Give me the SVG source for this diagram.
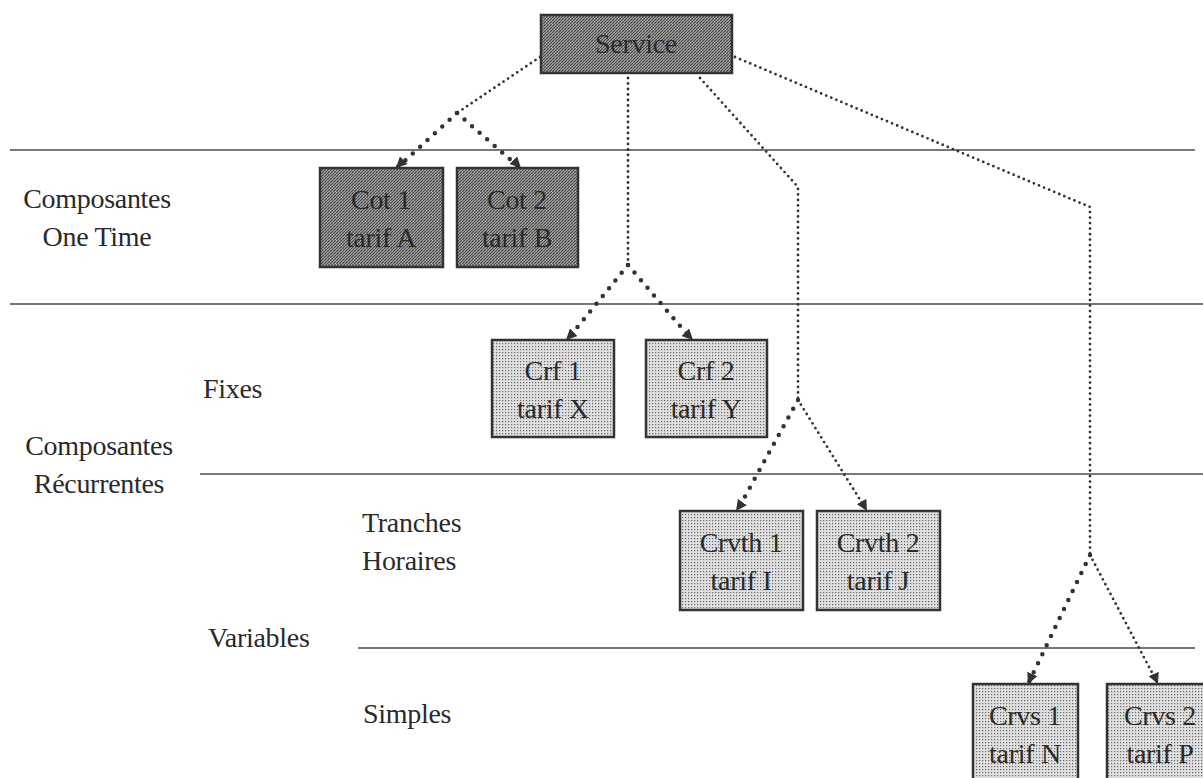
<svg xmlns="http://www.w3.org/2000/svg" width="1203" height="778" viewBox="0 0 1203 778">
<defs>
<pattern id="dark" width="3" height="3" patternUnits="userSpaceOnUse">
<rect width="3" height="3" fill="#a8a8a8"/>
<path d="M0,3 L3,0" stroke="#444" stroke-width="1.2"/>
</pattern>
<pattern id="light" width="3" height="3" patternUnits="userSpaceOnUse">
<rect width="3" height="3" fill="#e0e0e0"/>
<rect x="1" y="1" width="1.2" height="1.2" fill="#666"/>
</pattern>
<marker id="arr" viewBox="0 0 10 10" refX="10" refY="5" markerWidth="11" markerHeight="11" markerUnits="userSpaceOnUse" orient="auto">
<path d="M0,0 L10,5 L0,10 Z" fill="#333"/>
</marker>
</defs>
<style>
text{font-family:"Liberation Serif","Times New Roman",serif;font-size:28px;fill:#2a2a2a;letter-spacing:-0.3px}
.c{text-anchor:middle}
.dk{fill:url(#dark);stroke:#333;stroke-width:2.5}
.lt{fill:url(#light);stroke:#333;stroke-width:2.5}
.rule{stroke:#4a4a4a;stroke-width:1.6;fill:none}
.thin{stroke:#333;stroke-width:2.8;stroke-dasharray:0 5.5;stroke-linecap:round;fill:none}
.bold{stroke:#333;stroke-width:4.5;stroke-dasharray:0 10;stroke-linecap:round;fill:none}
.ah{fill:none;stroke:none}
</style>
<rect width="1203" height="778" fill="#fff"/>
<g id="rules">
<line class="rule" x1="10" y1="150" x2="1195" y2="150"/>
<line class="rule" x1="10" y1="304" x2="1203" y2="304"/>
<line class="rule" x1="200" y1="474" x2="1203" y2="474"/>
<line class="rule" x1="358" y1="648" x2="1195" y2="648"/>
</g>
<g id="labels">
<text class="c" x="97" y="208">Composantes</text>
<text class="c" x="97" y="246">One Time</text>
<text x="203" y="398">Fixes</text>
<text class="c" x="99" y="455">Composantes</text>
<text class="c" x="99" y="493">Récurrentes</text>
<text x="362" y="532">Tranches</text>
<text x="362" y="570">Horaires</text>
<text x="208" y="647">Variables</text>
<text x="363" y="723">Simples</text>
</g>
<g id="connectors">
<path class="thin" d="M540,57 L457,113"/>
<path class="bold" d="M457,113 L397,168"/>
<path class="bold" d="M457,113 L520,168"/>
<path class="thin" d="M628,78 L628,265"/>
<path class="bold" d="M628,265 L567,340"/>
<path class="bold" d="M628,265 L692,340"/>
<path class="thin" d="M700,78 L798,187 L798,400"/>
<path class="bold" d="M798,400 L737,511"/>
<path class="thin" d="M798,400 L867,511"/>
<path class="thin" d="M735,57 L1090,207 L1090,555"/>
<path class="bold" d="M1090,555 L1028,684"/>
<path class="thin" d="M1090,555 L1158,684"/>
<path class="ah" marker-end="url(#arr)" d="M402,162 L396,168"/>
<path class="ah" marker-end="url(#arr)" d="M515,162 L521,168"/>
<path class="ah" marker-end="url(#arr)" d="M572,334 L566,340"/>
<path class="ah" marker-end="url(#arr)" d="M687,334 L693,340"/>
<path class="ah" marker-end="url(#arr)" d="M741,504 L736,511"/>
<path class="ah" marker-end="url(#arr)" d="M863,504 L867,511"/>
<path class="ah" marker-end="url(#arr)" d="M1031,677 L1028,684"/>
<path class="ah" marker-end="url(#arr)" d="M1155,677 L1158,684"/>
</g>
<g id="service">
<rect class="dk" x="541" y="15" width="191" height="58"/>
<text class="c" x="636" y="53">Service</text>
</g>
<g id="cot1">
<rect class="dk" x="320" y="168" width="123" height="99"/>
<text class="c" x="381" y="209">Cot 1</text>
<text class="c" x="381" y="247">tarif A</text>
</g>
<g id="cot2">
<rect class="dk" x="457" y="168" width="121" height="99"/>
<text class="c" x="517" y="209">Cot 2</text>
<text class="c" x="517" y="247">tarif B</text>
</g>
<g id="crf1">
<rect class="lt" x="492" y="340" width="122" height="97"/>
<text class="c" x="553" y="380">Crf 1</text>
<text class="c" x="553" y="418">tarif X</text>
</g>
<g id="crf2">
<rect class="lt" x="646" y="340" width="121" height="97"/>
<text class="c" x="706" y="380">Crf 2</text>
<text class="c" x="706" y="418">tarif Y</text>
</g>
<g id="crvth1">
<rect class="lt" x="680" y="511" width="123" height="99"/>
<text class="c" x="741" y="552">Crvth 1</text>
<text class="c" x="741" y="590">tarif I</text>
</g>
<g id="crvth2">
<rect class="lt" x="817" y="511" width="123" height="99"/>
<text class="c" x="878" y="552">Crvth 2</text>
<text class="c" x="878" y="590">tarif J</text>
</g>
<g id="crvs1">
<rect class="lt" x="973" y="684" width="105" height="110"/>
<text class="c" x="1025" y="725">Crvs 1</text>
<text class="c" x="1025" y="763">tarif N</text>
</g>
<g id="crvs2">
<rect class="lt" x="1107" y="684" width="110" height="110"/>
<text class="c" x="1160" y="725">Crvs 2</text>
<text class="c" x="1160" y="763">tarif P</text>
</g>
</svg>
